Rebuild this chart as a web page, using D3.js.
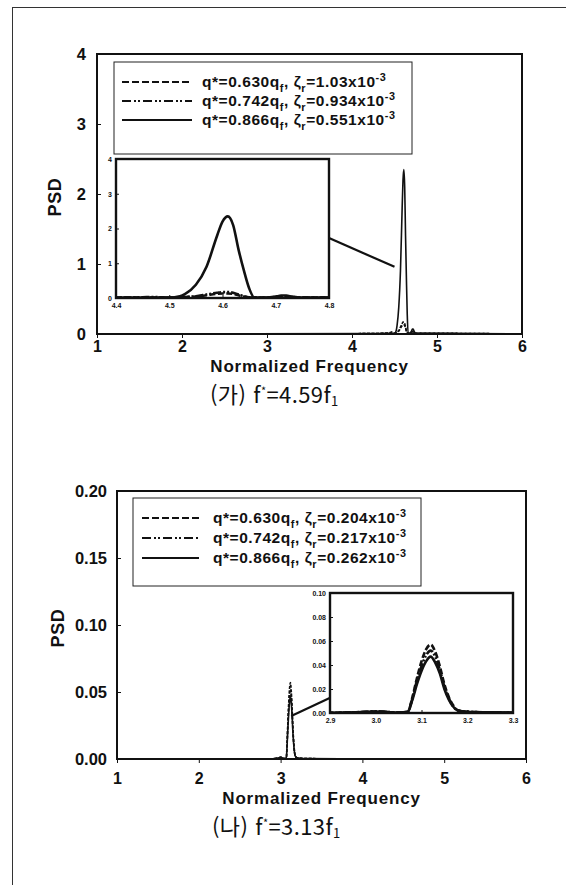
<!DOCTYPE html>
<html lang="ko">
<head>
<meta charset="UTF-8">
<title>PSD</title>
<script src="https://d3js.org/d3.v7.min.js"></script>
<style>
  body { margin: 0; background: #fff; }
  svg { display: block; font-family: "Liberation Sans", Arial, sans-serif; }
  .frame { fill: none; stroke: #111; stroke-width: 2; }
  .axis text { font-weight: bold; fill: #111; }
  .axis line { stroke: #111; }
  .axis path { display: none; }
  .lbl { font-weight: bold; fill: #111; }
  .leg { font-weight: bold; font-size: 15.5px; fill: #111; letter-spacing: 0.55px; }
  .cap { font-family: "Noto Sans CJK KR", sans-serif; font-size: 22px; fill: #111; letter-spacing: 0.4px; }
</style>
</head>
<body>
<svg id="fig" width="569" height="885"></svg>
<script>
// ---- data ----
const freqA   = [1.0, 4.20, 4.40, 4.45, 4.47, 4.50, 4.52, 4.53, 4.55, 4.57, 4.59, 4.60, 4.61, 4.62, 4.63, 4.64, 4.65, 4.66, 4.68, 4.70, 4.71, 4.72, 4.73, 4.75, 4.80, 6.0];
const psdA630 = [0, 0.005, 0.01, 0.01, 0.01, 0.01, 0.02, 0.03, 0.04, 0.08, 0.12, 0.13, 0.13, 0.12, 0.08, 0.04, 0.02, 0.01, 0.01, 0.02, 0.03, 0.03, 0.02, 0.01, 0.01, 0];
const psdA742 = [0, 0.005, 0.01, 0.02, 0.03, 0.01, 0.02, 0.03, 0.05, 0.10, 0.15, 0.17, 0.17, 0.15, 0.10, 0.05, 0.02, 0.01, 0.01, 0.03, 0.04, 0.04, 0.03, 0.01, 0.01, 0];
const psdA866 = [0, 0.005, 0.01, 0.01, 0.01, 0.01, 0.05, 0.12, 0.38, 0.90, 1.80, 2.20, 2.35, 2.10, 1.40, 0.80, 0.28, 0.01, 0.01, 0.04, 0.07, 0.07, 0.04, 0.01, 0.01, 0];

const freqB   = [1.0, 2.90, 2.95, 3.00, 3.02, 3.05, 3.07, 3.08, 3.09, 3.10, 3.11, 3.12, 3.13, 3.14, 3.15, 3.16, 3.17, 3.18, 3.20, 3.25, 3.30, 4.0, 6.0];
const psdB630 = [0, 0.0002, 0.0005, 0.0012, 0.001, 0.0003, 0.001, 0.013, 0.029, 0.043, 0.053, 0.057, 0.051, 0.039, 0.024, 0.013, 0.006, 0.002, 0.001, 0.0005, 0.0003, 0.0001, 0];
const psdB742 = [0, 0.0002, 0.0005, 0.0012, 0.001, 0.0003, 0.001, 0.012, 0.027, 0.039, 0.048, 0.052, 0.047, 0.036, 0.022, 0.012, 0.005, 0.002, 0.001, 0.0005, 0.0003, 0.0001, 0];
const psdB866 = [0, 0.0002, 0.0005, 0.0012, 0.001, 0.0003, 0.001, 0.011, 0.024, 0.035, 0.043, 0.047, 0.042, 0.033, 0.020, 0.011, 0.005, 0.002, 0.001, 0.0005, 0.0003, 0.0001, 0];

const qRatios = ["0.630", "0.742", "0.866"];
const zetaA = ["1.03", "0.934", "0.551"];
const zetaB = ["0.204", "0.217", "0.262"];

const xTicks = [1, 2, 3, 4, 5, 6];
const yTicksA = [0, 1, 2, 3, 4];
const yTicksB = [0, 0.05, 0.10, 0.15, 0.20];
const insetXTicksA = [4.4, 4.5, 4.6, 4.7, 4.8];
const insetYTicksA = [0, 1, 2, 3, 4];
const insetXTicksB = [2.9, 3.0, 3.1, 3.2, 3.3];
const insetYTicksB = [0, 0.02, 0.04, 0.06, 0.08, 0.10];

// connector line ends, in main-chart data units
const connA = [[3.73, 1.37], [4.50, 0.96]];
const connB = [[3.13, 0.032], [3.60, 0.0455]];

const dashes = ["7,3", "9,3,2,2,2,3", null];

const svg = d3.select("#fig");

// page border
svg.append("line").attr("x1", 12.5).attr("x2", 12.5).attr("y1", 7).attr("y2", 885)
  .attr("stroke", "#333").attr("stroke-width", 1);
svg.append("line").attr("x1", 12).attr("x2", 566).attr("y1", 7.5).attr("y2", 7.5)
  .attr("stroke", "#333").attr("stroke-width", 1);

function richText(sel, parts, size) {
  let shift = 0;
  parts.forEach(p => {
    const t = sel.append("tspan").text(p.t);
    const target = p.sub ? size * 0.3 : p.sup ? -size * 0.4 : 0;
    if (target !== shift) { t.attr("dy", target - shift); shift = target; }
    if (p.sub || p.sup) t.attr("font-size", size * 0.7);
  });
}

function drawPanel(c) {
  const g = svg.append("g").attr("transform", `translate(${c.x},${c.y})`);
  const x = d3.scaleLinear().domain([1, 6]).range([0, c.w]);
  const y = d3.scaleLinear().domain(c.yDomain).range([c.h, 0]);
  const series = [c.s630, c.s742, c.s866];

  const line = d3.line().x((d, i) => x(c.freq[i])).y(d => y(d)).curve(d3.curveMonotoneX);
  series.forEach((s, k) => {
    g.append("path").datum(s).attr("d", line).attr("fill", "none")
      .attr("stroke", "#111").attr("stroke-width", 1.6)
      .attr("stroke-dasharray", k < 2 ? "3,1.5" : null);
  });

  g.append("g").attr("class", "axis").style("font-size", "16.5px")
    .call(d3.axisLeft(y).tickValues(c.yTicks).tickFormat(c.yFmt).tickSize(-4).tickPadding(c.yPad));
  g.append("g").attr("class", "axis").style("font-size", "16px")
    .attr("transform", `translate(0,${c.h})`)
    .call(d3.axisBottom(x).tickValues(xTicks).tickFormat(d3.format("d")).tickSize(4).tickPadding(c.xPad));
  g.append("rect").attr("class", "frame").attr("width", c.w).attr("height", c.h);

  g.append("text").attr("class", "lbl").attr("font-size", 17).attr("letter-spacing", 0.8)
    .attr("text-anchor", "middle").attr("x", c.w / 2).attr("y", c.h + c.xTitleDy)
    .text("Normalized Frequency");
  g.append("text").attr("class", "lbl").attr("font-size", 18).attr("letter-spacing", 0.6)
    .attr("text-anchor", "middle")
    .attr("transform", `translate(${c.psdX - c.x},${c.h / 2 + 3}) rotate(-90)`)
    .text("PSD");

  // connector
  g.append("line")
    .attr("x1", x(c.conn[0][0])).attr("y1", y(c.conn[0][1]))
    .attr("x2", x(c.conn[1][0])).attr("y2", y(c.conn[1][1]))
    .attr("stroke", "#111").attr("stroke-width", 2.2);

  // legend
  const L = c.legend;
  const lg = g.append("g").attr("transform", `translate(${L.x - c.x},${L.y - c.y})`);
  lg.append("rect").attr("width", L.w).attr("height", L.h)
    .attr("fill", "#fff").attr("stroke", "#222").attr("stroke-width", 1);
  qRatios.forEach((q, k) => {
    const ry = L.row0 + k * L.rowGap;
    lg.append("line").attr("x1", L.lx0).attr("x2", L.lx1).attr("y1", ry).attr("y2", ry)
      .attr("stroke", "#111").attr("stroke-width", 2).attr("stroke-dasharray", dashes[k]);
    const t = lg.append("text").attr("class", "leg").attr("x", L.tx).attr("y", ry + 5);
    richText(t, [
      { t: `q*=${q}q` }, { t: "f", sub: true }, { t: ", ζ" }, { t: "r", sub: true },
      { t: `=${c.zeta[k]}x10` }, { t: "-3", sup: true }
    ], 15.5);
  });

  // inset
  const I = c.inset;
  const ig = g.append("g").attr("transform", `translate(${I.x - c.x},${I.y - c.y})`);
  const ix = d3.scaleLinear().domain(I.xDomain).range([0, I.w]);
  const iy = d3.scaleLinear().domain(I.yDomain).range([I.h, 0]);
  ig.append("rect").attr("width", I.w).attr("height", I.h).attr("fill", "#fff");
  const clipId = "clip" + c.id;
  ig.append("clipPath").attr("id", clipId).append("rect").attr("width", I.w).attr("height", I.h);
  const iline = d3.line().x((d, i) => ix(c.freq[i])).y(d => iy(d)).curve(d3.curveMonotoneX);
  series.forEach((s, k) => {
    ig.append("path").datum(s).attr("d", iline).attr("fill", "none")
      .attr("clip-path", `url(#${clipId})`)
      .attr("stroke", "#111").attr("stroke-width", 2.6)
      .attr("stroke-dasharray", dashes[k] ? (k === 0 ? "6,2.5" : "8,2,2,2,2,2") : null);
  });
  ig.append("g").attr("class", "axis").style("font-size", "7px")
    .call(d3.axisLeft(iy).tickValues(I.yTicks).tickFormat(I.yFmt).tickSize(-3).tickPadding(4));
  ig.append("g").attr("class", "axis").style("font-size", "7px")
    .attr("transform", `translate(0,${I.h})`)
    .call(d3.axisBottom(ix).tickValues(I.xTicks).tickFormat(d3.format(".1f")).tickSize(-3).tickPadding(5));
  ig.append("rect").attr("width", I.w).attr("height", I.h)
    .attr("fill", "none").attr("stroke", "#111").attr("stroke-width", 2.4);

  // caption
  const cap = svg.append("text").attr("class", "cap").attr("x", c.capX).attr("y", c.capY);
  cap.append("tspan").text(c.capMark);
  cap.append("tspan").attr("dx", 7).text("f");
  cap.append("tspan").attr("font-size", 11).attr("dy", -8).text("*");
  cap.append("tspan").attr("dy", 8).text(c.capVal + "f");
  cap.append("tspan").attr("font-size", 13).attr("dy", 3).text("1");
}

drawPanel({
  id: "A", x: 97, y: 54, w: 425, h: 280,
  freq: freqA, s630: psdA630, s742: psdA742, s866: psdA866,
  yDomain: [0, 4], yTicks: yTicksA, yFmt: d3.format("d"), yPad: 11, xPad: 3,
  xTitleDy: 38, psdX: 61, conn: connA, zeta: zetaA,
  legend: { x: 114, y: 62, w: 298, h: 92, row0: 20, rowGap: 19, lx0: 8, lx1: 78, tx: 88 },
  inset: { x: 116, y: 159, w: 213, h: 139, xDomain: [4.4, 4.8], yDomain: [0, 4],
           xTicks: insetXTicksA, yTicks: insetYTicksA, yFmt: d3.format("d") },
  capX: 210, capY: 403, capMark: "(가)", capVal: "=4.59"
});

drawPanel({
  id: "B", x: 117, y: 491, w: 409, h: 268,
  freq: freqB, s630: psdB630, s742: psdB742, s866: psdB866,
  yDomain: [0, 0.2], yTicks: yTicksB, yFmt: d3.format(".2f"), yPad: 10, xPad: 10,
  xTitleDy: 45, psdX: 64, conn: connB, zeta: zetaB,
  legend: { x: 133, y: 498, w: 288, h: 88, row0: 20, rowGap: 20, lx0: 9, lx1: 66, tx: 80 },
  inset: { x: 330, y: 593, w: 183, h: 120, xDomain: [2.9, 3.3], yDomain: [0, 0.1],
           xTicks: insetXTicksB, yTicks: insetYTicksB, yFmt: d3.format(".2f") },
  capX: 212, capY: 835, capMark: "(나)", capVal: "=3.13"
});
</script>
</body>
</html>
